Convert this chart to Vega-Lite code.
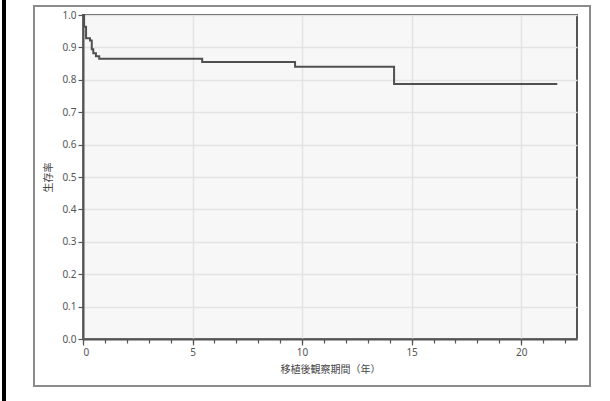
{
  "$schema": "https://vega.github.io/schema/vega-lite/v6.json",
  "width": 494,
  "height": 324,
  "autosize": "none",
  "padding": {"left": 83, "top": 15, "right": 33, "bottom": 62},
  "background": "white",
  "config": {
    "view": {"stroke": "#555555", "strokeWidth": 2, "fill": "#f7f7f7"},
    "axis": {
      "labelFont": "Noto Sans",
      "labelFontSize": 10,
      "labelColor": "#555555",
      "titleFont": "Noto Sans CJK JP",
      "titleFontSize": 10,
      "titleFontWeight": "normal",
      "titleColor": "#444444",
      "tickColor": "#555555",
      "domainColor": "#555555",
      "domainWidth": 2,
      "gridColor": "#e3e3e3",
      "gridWidth": 1.5
    }
  },
  "data": {
    "values": [
      {"time": 0, "surv": 1.0},
      {"time": 0.05, "surv": 0.964},
      {"time": 0.14, "surv": 0.928},
      {"time": 0.32, "surv": 0.921},
      {"time": 0.40, "surv": 0.894},
      {"time": 0.47, "surv": 0.882},
      {"time": 0.59, "surv": 0.873},
      {"time": 0.74, "surv": 0.865},
      {"time": 5.44, "surv": 0.855},
      {"time": 9.68, "surv": 0.840},
      {"time": 14.2, "surv": 0.787},
      {"time": 21.65, "surv": 0.787}
    ]
  },
  "resolve": {"axis": {"x": "independent", "y": "independent"}},
  "layer": [
    {
      "mark": {"type": "rect", "filled": false, "stroke": "#8c8c8c", "strokeWidth": 1.5},
      "encoding": {
        "x": {"datum": -2.237, "type": "quantitative", "scale": {"domain": [0, 22.55], "nice": false, "zero": false}, "axis": null},
        "x2": {"datum": 23.15},
        "y": {"datum": 1.0278, "type": "quantitative", "scale": {"domain": [0, 1], "nice": false}, "axis": null},
        "y2": {"datum": -0.145}
      }
    },
    {
      "mark": {"type": "rule", "stroke": "#000000", "strokeWidth": 3.3},
      "encoding": {
        "x": {"datum": -3.592, "type": "quantitative", "scale": {"domain": [0, 22.55], "nice": false, "zero": false},
          "axis": {"orient": "bottom", "values": [0,1,2,3,4,5,6,7,8,9,10,11,12,13,14,15,16,17,18,19,20,21,22], "labels": false, "grid": false, "domain": false, "tickSize": 4, "tickWidth": 1.2, "title": null}},
        "y": {"datum": 1.1, "type": "quantitative", "scale": {"domain": [0, 1], "nice": false}, "axis": null},
        "y2": {"datum": -0.25}
      }
    },
    {
      "mark": {"type": "line", "interpolate": "step-after", "stroke": "#505050", "strokeWidth": 2},
      "encoding": {
        "x": {"field": "time", "type": "quantitative", "scale": {"domain": [0, 22.55], "nice": false, "zero": false},
          "axis": {"orient": "bottom", "values": [0, 5, 10, 15, 20], "grid": true, "tickSize": 6, "tickWidth": 1.2, "labelPadding": 2, "title": "移植後観察期間（年）", "titlePadding": 7}},
        "y": {"field": "surv", "type": "quantitative", "scale": {"domain": [0, 1], "nice": false},
          "axis": {"orient": "left", "values": [0, 0.1, 0.2, 0.3, 0.4, 0.5, 0.6, 0.7, 0.8, 0.9, 1.0], "format": ".1f", "grid": true, "tickSize": 5, "tickWidth": 1.2, "labelPadding": 2, "title": "生存率", "titlePadding": 8}}
      }
    }
  ]
}
